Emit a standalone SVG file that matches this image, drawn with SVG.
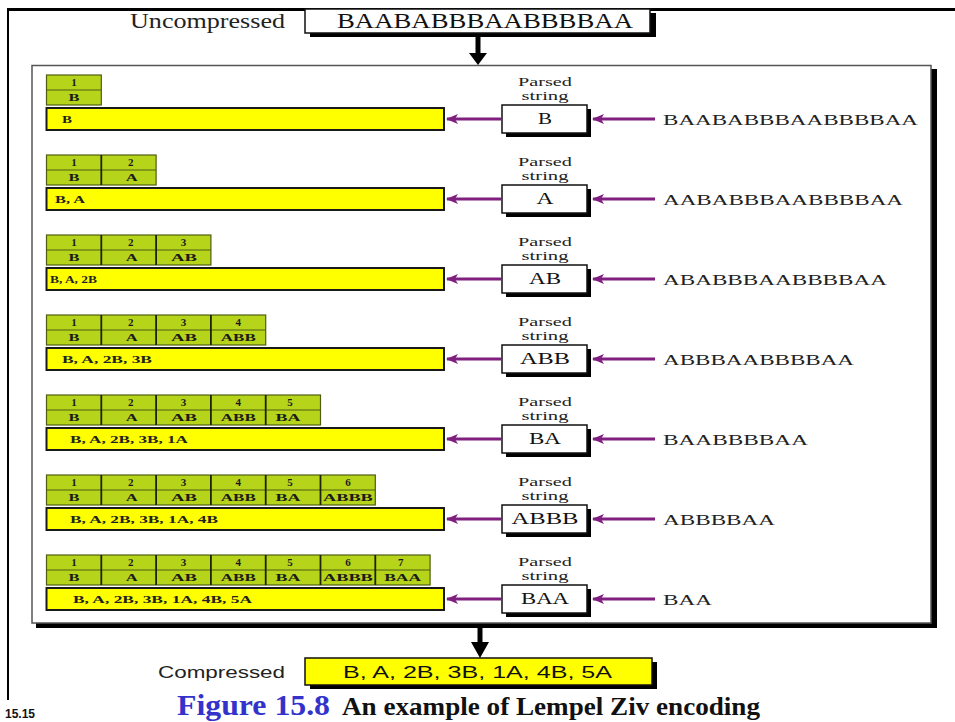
<svg xmlns="http://www.w3.org/2000/svg" width="955" height="722" viewBox="0 0 955 722">
  <style>
    .serif { font-family: "Liberation Serif", "Times New Roman", serif; }
    .sans { font-family: "Liberation Sans", Arial, sans-serif; }
    .tbl { fill: #b6d41a; stroke: #4d5e12; stroke-width: 1.2; }
    .mid { stroke: #4d5e12; stroke-width: 1.2; }
    .div { stroke: #1c2408; stroke-width: 1.8; }
    .cell { font-family: "Liberation Serif", "Times New Roman", serif; font-weight: bold; font-size: 11px; fill: #1a1a1a; text-anchor: middle; }
    .bar { fill: #ffff00; stroke: #1a1a1a; stroke-width: 2; }
    .bartxt { font-family: "Liberation Serif", "Times New Roman", serif; font-weight: bold; font-size: 11px; fill: #222; }
    .pbox { fill: #ffffff; stroke: #111; stroke-width: 1.5; }
    .shadow { fill: #000; }
    .plabel { font-family: "Liberation Serif", "Times New Roman", serif; font-size: 12px; fill: #222; text-anchor: middle; }
    .ptxt { font-family: "Liberation Serif", "Times New Roman", serif; font-size: 16px; fill: #111; text-anchor: middle; }
    .intxt { font-family: "Liberation Serif", "Times New Roman", serif; font-size: 15px; fill: #222; }
    .parrow { stroke: #7f1f7f; stroke-width: 3; fill: none; marker-end: url(#purpleHead); }
  </style>
  <defs>
    <marker id="purpleHead" viewBox="0 0 12 10" refX="11" refY="5" markerWidth="12" markerHeight="10" markerUnits="userSpaceOnUse" orient="auto">
      <path d="M0,0 L12,5 L0,10 L3,5 Z" fill="#7f1f7f"/>
    </marker>
  </defs>

  <rect width="955" height="722" fill="#ffffff"/>

  <!-- slide frame -->
  <g id="frame">
    <line x1="7" y1="9.5" x2="955" y2="9.5" stroke="#000" stroke-width="3"/>
    <line x1="8" y1="8" x2="8" y2="700" stroke="#000" stroke-width="2"/>
  </g>

  <!-- input string -->
  <g id="uncompressed">
    <text x="130" y="28" class="serif" font-size="20" fill="#222" textLength="155" lengthAdjust="spacingAndGlyphs">Uncompressed</text>
    <rect x="310" y="13" width="346" height="24" class="shadow"/>
    <rect x="305" y="9" width="345" height="24" fill="#fff" stroke="#111" stroke-width="1.5"/>
    <text x="337" y="28" class="serif" font-size="20" fill="#111" textLength="296" lengthAdjust="spacingAndGlyphs">BAABABBBAABBBBAA</text>
  </g>

  <!-- encoder panel -->
  <g id="panel">
    <rect x="36" y="69" width="901" height="559" class="shadow"/>
    <rect x="32" y="65.5" width="899" height="557.5" fill="#fff" stroke="#555" stroke-width="1.5"/>
  </g>

  <!-- step 1 -->
  <g id="step-1">
    <g id="dict-1">
      <rect x="46.5" y="75" width="54.8" height="30" class="tbl"/>
      <line x1="46.5" y1="90" x2="101.3" y2="90" class="mid"/>
      <text x="73.9" y="86" class="cell">1</text>
      <text x="73.9" y="100.5" class="cell" textLength="11" lengthAdjust="spacingAndGlyphs">B</text>
    </g>
    <g id="output-1">
      <rect x="46.5" y="108" width="397.5" height="22" class="bar"/>
      <text x="62" y="123" class="bartxt" textLength="10" lengthAdjust="spacingAndGlyphs">B</text>
    </g>
    <g id="parsed-1">
      <text x="545" y="85.5" class="plabel" textLength="54" lengthAdjust="spacingAndGlyphs">Parsed</text>
      <text x="545" y="99.5" class="plabel" textLength="47" lengthAdjust="spacingAndGlyphs">string</text>
      <rect x="506" y="109" width="85" height="28" class="shadow"/>
      <rect x="502" y="105" width="85" height="28" class="pbox"/>
      <text x="545" y="124" class="ptxt" textLength="14" lengthAdjust="spacingAndGlyphs">B</text>
    </g>
    <g id="input-1">
      <text x="663" y="125" class="intxt" textLength="255" lengthAdjust="spacingAndGlyphs">BAABABBBAABBBBAA</text>
    </g>
  </g>

  <!-- step 2 -->
  <g id="step-2" transform="translate(0,80)">
    <g id="dict-2">
      <rect x="46.5" y="75" width="109.6" height="30" class="tbl"/>
      <line x1="46.5" y1="90" x2="156.1" y2="90" class="mid"/>
      <line x1="101.3" y1="75" x2="101.3" y2="105" class="div"/>
      <text x="73.9" y="86" class="cell">1</text>
      <text x="130.7" y="86" class="cell">2</text>
      <text x="73.9" y="100.5" class="cell" textLength="11" lengthAdjust="spacingAndGlyphs">B</text>
      <text x="131.7" y="100.5" class="cell" textLength="12" lengthAdjust="spacingAndGlyphs">A</text>
    </g>
    <g id="output-2">
      <rect x="46.5" y="108" width="397.5" height="22" class="bar"/>
      <text x="55" y="123" class="bartxt" textLength="30" lengthAdjust="spacingAndGlyphs">B, A</text>
    </g>
    <g id="parsed-2">
      <text x="545" y="85.5" class="plabel" textLength="54" lengthAdjust="spacingAndGlyphs">Parsed</text>
      <text x="545" y="99.5" class="plabel" textLength="47" lengthAdjust="spacingAndGlyphs">string</text>
      <rect x="506" y="109" width="85" height="28" class="shadow"/>
      <rect x="502" y="105" width="85" height="28" class="pbox"/>
      <text x="545" y="124" class="ptxt" textLength="17" lengthAdjust="spacingAndGlyphs">A</text>
    </g>
    <g id="input-2">
      <text x="663" y="125" class="intxt" textLength="240" lengthAdjust="spacingAndGlyphs">AABABBBAABBBBAA</text>
    </g>
  </g>

  <!-- step 3 -->
  <g id="step-3" transform="translate(0,160)">
    <g id="dict-3">
      <rect x="46.5" y="75" width="164.4" height="30" class="tbl"/>
      <line x1="46.5" y1="90" x2="210.9" y2="90" class="mid"/>
      <line x1="101.3" y1="75" x2="101.3" y2="105" class="div"/>
      <line x1="156.1" y1="75" x2="156.1" y2="105" class="div"/>
      <text x="73.9" y="86" class="cell">1</text>
      <text x="130.7" y="86" class="cell">2</text>
      <text x="183.5" y="86" class="cell">3</text>
      <text x="73.9" y="100.5" class="cell" textLength="11" lengthAdjust="spacingAndGlyphs">B</text>
      <text x="131.7" y="100.5" class="cell" textLength="12" lengthAdjust="spacingAndGlyphs">A</text>
      <text x="184" y="100.5" class="cell" textLength="26" lengthAdjust="spacingAndGlyphs">AB</text>
    </g>
    <g id="output-3">
      <rect x="46.5" y="108" width="397.5" height="22" class="bar"/>
      <text x="50" y="123" class="bartxt" textLength="47" lengthAdjust="spacingAndGlyphs">B, A, 2B</text>
    </g>
    <g id="parsed-3">
      <text x="545" y="85.5" class="plabel" textLength="54" lengthAdjust="spacingAndGlyphs">Parsed</text>
      <text x="545" y="99.5" class="plabel" textLength="47" lengthAdjust="spacingAndGlyphs">string</text>
      <rect x="506" y="109" width="85" height="28" class="shadow"/>
      <rect x="502" y="105" width="85" height="28" class="pbox"/>
      <text x="545" y="124" class="ptxt" textLength="32" lengthAdjust="spacingAndGlyphs">AB</text>
    </g>
    <g id="input-3">
      <text x="663" y="125" class="intxt" textLength="224" lengthAdjust="spacingAndGlyphs">ABABBBAABBBBAA</text>
    </g>
  </g>

  <!-- step 4 -->
  <g id="step-4" transform="translate(0,240)">
    <g id="dict-4">
      <rect x="46.5" y="75" width="219.2" height="30" class="tbl"/>
      <line x1="46.5" y1="90" x2="265.7" y2="90" class="mid"/>
      <line x1="101.3" y1="75" x2="101.3" y2="105" class="div"/>
      <line x1="156.1" y1="75" x2="156.1" y2="105" class="div"/>
      <line x1="210.9" y1="75" x2="210.9" y2="105" class="div"/>
      <text x="73.9" y="86" class="cell">1</text>
      <text x="130.7" y="86" class="cell">2</text>
      <text x="183.5" y="86" class="cell">3</text>
      <text x="238.3" y="86" class="cell">4</text>
      <text x="73.9" y="100.5" class="cell" textLength="11" lengthAdjust="spacingAndGlyphs">B</text>
      <text x="131.7" y="100.5" class="cell" textLength="12" lengthAdjust="spacingAndGlyphs">A</text>
      <text x="184" y="100.5" class="cell" textLength="26" lengthAdjust="spacingAndGlyphs">AB</text>
      <text x="238.3" y="100.5" class="cell" textLength="35" lengthAdjust="spacingAndGlyphs">ABB</text>
    </g>
    <g id="output-4">
      <rect x="46.5" y="108" width="397.5" height="22" class="bar"/>
      <text x="62" y="123" class="bartxt" textLength="90" lengthAdjust="spacingAndGlyphs">B, A, 2B, 3B</text>
    </g>
    <g id="parsed-4">
      <text x="545" y="85.5" class="plabel" textLength="54" lengthAdjust="spacingAndGlyphs">Parsed</text>
      <text x="545" y="99.5" class="plabel" textLength="47" lengthAdjust="spacingAndGlyphs">string</text>
      <rect x="506" y="109" width="85" height="28" class="shadow"/>
      <rect x="502" y="105" width="85" height="28" class="pbox"/>
      <text x="545" y="124" class="ptxt" textLength="50" lengthAdjust="spacingAndGlyphs">ABB</text>
    </g>
    <g id="input-4">
      <text x="663" y="125" class="intxt" textLength="191" lengthAdjust="spacingAndGlyphs">ABBBAABBBBAA</text>
    </g>
  </g>

  <!-- step 5 -->
  <g id="step-5" transform="translate(0,320)">
    <g id="dict-5">
      <rect x="46.5" y="75" width="274" height="30" class="tbl"/>
      <line x1="46.5" y1="90" x2="320.5" y2="90" class="mid"/>
      <line x1="101.3" y1="75" x2="101.3" y2="105" class="div"/>
      <line x1="156.1" y1="75" x2="156.1" y2="105" class="div"/>
      <line x1="210.9" y1="75" x2="210.9" y2="105" class="div"/>
      <line x1="265.7" y1="75" x2="265.7" y2="105" class="div"/>
      <text x="73.9" y="86" class="cell">1</text>
      <text x="130.7" y="86" class="cell">2</text>
      <text x="183.5" y="86" class="cell">3</text>
      <text x="238.3" y="86" class="cell">4</text>
      <text x="290" y="86" class="cell">5</text>
      <text x="73.9" y="100.5" class="cell" textLength="11" lengthAdjust="spacingAndGlyphs">B</text>
      <text x="131.7" y="100.5" class="cell" textLength="12" lengthAdjust="spacingAndGlyphs">A</text>
      <text x="184" y="100.5" class="cell" textLength="26" lengthAdjust="spacingAndGlyphs">AB</text>
      <text x="238.3" y="100.5" class="cell" textLength="35" lengthAdjust="spacingAndGlyphs">ABB</text>
      <text x="288" y="100.5" class="cell" textLength="25" lengthAdjust="spacingAndGlyphs">BA</text>
    </g>
    <g id="output-5">
      <rect x="46.5" y="108" width="397.5" height="22" class="bar"/>
      <text x="70" y="123" class="bartxt" textLength="118" lengthAdjust="spacingAndGlyphs">B, A, 2B, 3B, 1A</text>
    </g>
    <g id="parsed-5">
      <text x="545" y="85.5" class="plabel" textLength="54" lengthAdjust="spacingAndGlyphs">Parsed</text>
      <text x="545" y="99.5" class="plabel" textLength="47" lengthAdjust="spacingAndGlyphs">string</text>
      <rect x="506" y="109" width="85" height="28" class="shadow"/>
      <rect x="502" y="105" width="85" height="28" class="pbox"/>
      <text x="545" y="124" class="ptxt" textLength="32" lengthAdjust="spacingAndGlyphs">BA</text>
    </g>
    <g id="input-5">
      <text x="663" y="125" class="intxt" textLength="145" lengthAdjust="spacingAndGlyphs">BAABBBBAA</text>
    </g>
  </g>

  <!-- step 6 -->
  <g id="step-6" transform="translate(0,400)">
    <g id="dict-6">
      <rect x="46.5" y="75" width="328.8" height="30" class="tbl"/>
      <line x1="46.5" y1="90" x2="375.3" y2="90" class="mid"/>
      <line x1="101.3" y1="75" x2="101.3" y2="105" class="div"/>
      <line x1="156.1" y1="75" x2="156.1" y2="105" class="div"/>
      <line x1="210.9" y1="75" x2="210.9" y2="105" class="div"/>
      <line x1="265.7" y1="75" x2="265.7" y2="105" class="div"/>
      <line x1="320.5" y1="75" x2="320.5" y2="105" class="div"/>
      <text x="73.9" y="86" class="cell">1</text>
      <text x="130.7" y="86" class="cell">2</text>
      <text x="183.5" y="86" class="cell">3</text>
      <text x="238.3" y="86" class="cell">4</text>
      <text x="290" y="86" class="cell">5</text>
      <text x="347.9" y="86" class="cell">6</text>
      <text x="73.9" y="100.5" class="cell" textLength="11" lengthAdjust="spacingAndGlyphs">B</text>
      <text x="131.7" y="100.5" class="cell" textLength="12" lengthAdjust="spacingAndGlyphs">A</text>
      <text x="184" y="100.5" class="cell" textLength="26" lengthAdjust="spacingAndGlyphs">AB</text>
      <text x="238.3" y="100.5" class="cell" textLength="35" lengthAdjust="spacingAndGlyphs">ABB</text>
      <text x="288" y="100.5" class="cell" textLength="25" lengthAdjust="spacingAndGlyphs">BA</text>
      <text x="347.9" y="100.5" class="cell" textLength="50" lengthAdjust="spacingAndGlyphs">ABBB</text>
    </g>
    <g id="output-6">
      <rect x="46.5" y="108" width="397.5" height="22" class="bar"/>
      <text x="70" y="123" class="bartxt" textLength="148" lengthAdjust="spacingAndGlyphs">B, A, 2B, 3B, 1A, 4B</text>
    </g>
    <g id="parsed-6">
      <text x="545" y="85.5" class="plabel" textLength="54" lengthAdjust="spacingAndGlyphs">Parsed</text>
      <text x="545" y="99.5" class="plabel" textLength="47" lengthAdjust="spacingAndGlyphs">string</text>
      <rect x="506" y="109" width="85" height="28" class="shadow"/>
      <rect x="502" y="105" width="85" height="28" class="pbox"/>
      <text x="545" y="124" class="ptxt" textLength="67" lengthAdjust="spacingAndGlyphs">ABBB</text>
    </g>
    <g id="input-6">
      <text x="663" y="125" class="intxt" textLength="112" lengthAdjust="spacingAndGlyphs">ABBBBAA</text>
    </g>
  </g>

  <!-- step 7 -->
  <g id="step-7" transform="translate(0,480)">
    <g id="dict-7">
      <rect x="46.5" y="75" width="383.6" height="30" class="tbl"/>
      <line x1="46.5" y1="90" x2="430.1" y2="90" class="mid"/>
      <line x1="101.3" y1="75" x2="101.3" y2="105" class="div"/>
      <line x1="156.1" y1="75" x2="156.1" y2="105" class="div"/>
      <line x1="210.9" y1="75" x2="210.9" y2="105" class="div"/>
      <line x1="265.7" y1="75" x2="265.7" y2="105" class="div"/>
      <line x1="320.5" y1="75" x2="320.5" y2="105" class="div"/>
      <line x1="375.3" y1="75" x2="375.3" y2="105" class="div"/>
      <text x="73.9" y="86" class="cell">1</text>
      <text x="130.7" y="86" class="cell">2</text>
      <text x="183.5" y="86" class="cell">3</text>
      <text x="238.3" y="86" class="cell">4</text>
      <text x="290" y="86" class="cell">5</text>
      <text x="347.9" y="86" class="cell">6</text>
      <text x="400.7" y="86" class="cell">7</text>
      <text x="73.9" y="100.5" class="cell" textLength="11" lengthAdjust="spacingAndGlyphs">B</text>
      <text x="131.7" y="100.5" class="cell" textLength="12" lengthAdjust="spacingAndGlyphs">A</text>
      <text x="184" y="100.5" class="cell" textLength="26" lengthAdjust="spacingAndGlyphs">AB</text>
      <text x="238.3" y="100.5" class="cell" textLength="35" lengthAdjust="spacingAndGlyphs">ABB</text>
      <text x="288" y="100.5" class="cell" textLength="25" lengthAdjust="spacingAndGlyphs">BA</text>
      <text x="347.9" y="100.5" class="cell" textLength="50" lengthAdjust="spacingAndGlyphs">ABBB</text>
      <text x="402.7" y="100.5" class="cell" textLength="37" lengthAdjust="spacingAndGlyphs">BAA</text>
    </g>
    <g id="output-7">
      <rect x="46.5" y="108" width="397.5" height="22" class="bar"/>
      <text x="73" y="123" class="bartxt" textLength="179" lengthAdjust="spacingAndGlyphs">B, A, 2B, 3B, 1A, 4B, 5A</text>
    </g>
    <g id="parsed-7">
      <text x="545" y="85.5" class="plabel" textLength="54" lengthAdjust="spacingAndGlyphs">Parsed</text>
      <text x="545" y="99.5" class="plabel" textLength="47" lengthAdjust="spacingAndGlyphs">string</text>
      <rect x="506" y="109" width="85" height="28" class="shadow"/>
      <rect x="502" y="105" width="85" height="28" class="pbox"/>
      <text x="545" y="124" class="ptxt" textLength="48" lengthAdjust="spacingAndGlyphs">BAA</text>
    </g>
    <g id="input-7">
      <text x="663" y="125" class="intxt" textLength="49" lengthAdjust="spacingAndGlyphs">BAA</text>
    </g>
  </g>

  <!-- compressed output -->
  <g id="compressed">
    <text x="158" y="678" class="sans" font-size="16" fill="#222" textLength="127" lengthAdjust="spacingAndGlyphs">Compressed</text>
    <rect x="310" y="662" width="347" height="27" class="shadow"/>
    <rect x="305" y="658" width="347" height="27" fill="#ffff00" stroke="#111" stroke-width="1.5"/>
    <text x="343" y="678" class="sans" font-size="17" fill="#111" textLength="269" lengthAdjust="spacingAndGlyphs">B, A, 2B, 3B, 1A, 4B, 5A</text>
  </g>

  <!-- connectors -->
  <g id="connectors">
    <!-- input into the encoder -->
    <line x1="478" y1="37" x2="478" y2="54" stroke="#000" stroke-width="5"/>
    <path d="M469,53 L487,53 L478,65 Z" fill="#000"/>
    <!-- encoder to compressed output -->
    <line x1="480" y1="628" x2="480" y2="643" stroke="#000" stroke-width="5"/>
    <path d="M471,642 L489,642 L480,658 Z" fill="#000"/>
    <!-- per-step arrows: remaining input -> parsed string -> output -->
    <g id="step-arrows">
      <line x1="655" y1="119" x2="593" y2="119" class="parrow"/>
      <line x1="502" y1="119" x2="447" y2="119" class="parrow"/>
      <line x1="655" y1="199" x2="593" y2="199" class="parrow"/>
      <line x1="502" y1="199" x2="447" y2="199" class="parrow"/>
      <line x1="655" y1="279" x2="593" y2="279" class="parrow"/>
      <line x1="502" y1="279" x2="447" y2="279" class="parrow"/>
      <line x1="655" y1="359" x2="593" y2="359" class="parrow"/>
      <line x1="502" y1="359" x2="447" y2="359" class="parrow"/>
      <line x1="655" y1="439" x2="593" y2="439" class="parrow"/>
      <line x1="502" y1="439" x2="447" y2="439" class="parrow"/>
      <line x1="655" y1="519" x2="593" y2="519" class="parrow"/>
      <line x1="502" y1="519" x2="447" y2="519" class="parrow"/>
      <line x1="655" y1="599" x2="593" y2="599" class="parrow"/>
      <line x1="502" y1="599" x2="447" y2="599" class="parrow"/>
    </g>
  </g>

  <!-- caption -->
  <g id="caption">
    <text x="5" y="718" class="sans" font-size="12" font-weight="bold" fill="#111">15.15</text>
    <text x="177" y="715" class="serif" font-size="30" font-weight="bold" fill="#3333cc" textLength="153" lengthAdjust="spacingAndGlyphs">Figure 15.8</text>
    <text x="342" y="715" class="serif" font-size="26" font-weight="bold" fill="#111" textLength="418" lengthAdjust="spacingAndGlyphs">An example of Lempel Ziv encoding</text>
  </g>
</svg>
